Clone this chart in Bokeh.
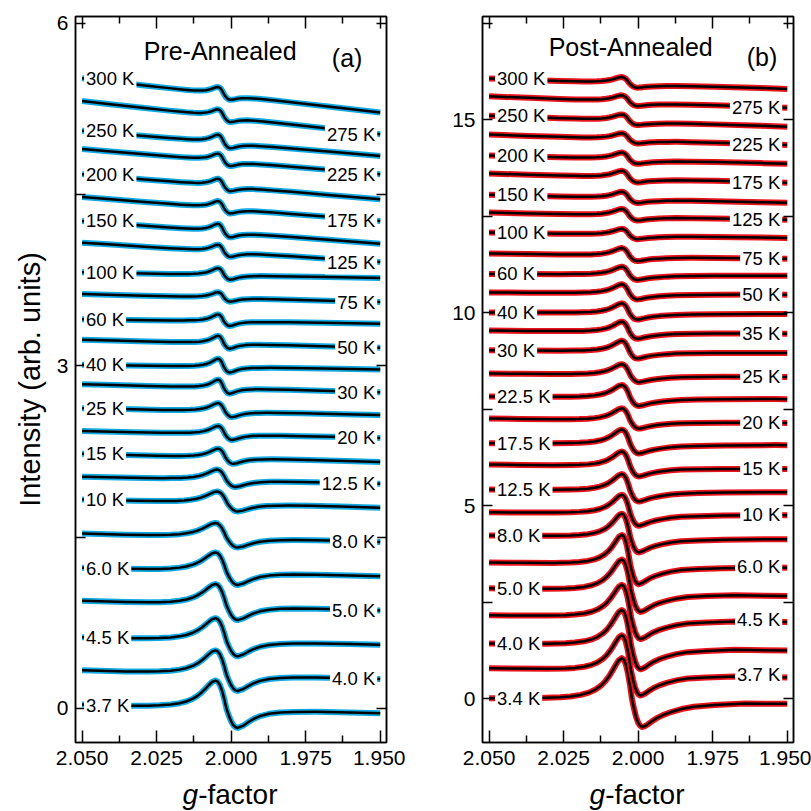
import numpy as np
from bokeh.plotting import figure
from bokeh.layouts import row, column
from bokeh.models import (Range1d, LinearAxis, FixedTicker, PrintfTickFormatter,
                          CustomJSTickFormatter, Label)
from bokeh.embed import file_html
from bokeh.resources import INLINE

FONT = "Liberation Sans"
G_HI, G_LO = 2.050, 1.950

# ---- line shape (u=0 peak, u=1 trough; units of peak-to-peak)
shape_u = [-20, -14, -9, -6, -4, -3, -2.5, -2, -1.6, -1.3, -1.0, -0.8, -0.6, -0.45, -0.3, -0.15,
           0, 0.1, 0.2, 0.3, 0.4, 0.5, 0.6, 0.7, 0.8, 0.9, 1.0, 1.1, 1.25, 1.45, 1.7, 2.0,
           2.4, 2.9, 3.5, 4.5, 6, 9, 14, 20]
shape_pos = [0.0, 0.0, 0.001, 0.004, 0.012, 0.025, 0.038, 0.061, 0.095, 0.136, 0.200, 0.262,
             0.343, 0.417, 0.496, 0.567, 0.600, 0.580, 0.510, 0.385, 0.208, 0.0]
shape_a = shape_pos + [-0.138, -0.256, -0.340, -0.386, -0.400, -0.378, -0.348, -0.278, -0.200,
                       -0.133, -0.080, -0.045, -0.025, -0.011, -0.005, -0.001, 0.0, 0.0]
shape_b = shape_pos + [-0.14, -0.26, -0.34, -0.385, -0.40, -0.39, -0.365, -0.32, -0.27,
                       -0.225, -0.18, -0.135, -0.10, -0.075, -0.05, -0.025, -0.01, 0.0]

# ---- (a) Pre-Annealed, bottom to top
temps_a = ["3.7", "4.0", "4.5", "5.0", "6.0", "8.0", "10", "12.5", "15", "20", "25", "30", "40",
           "50", "60", "75", "100", "125", "150", "175", "200", "225", "250", "275", "300"]
left_a = [0.03, 0.33, 0.62, 0.94, 1.23, 1.53, 1.83, 2.03, 2.23, 2.43, 2.63, 2.84, 3.01,
          3.23, 3.41, 3.63, 3.82, 4.08, 4.27, 4.48, 4.68, 4.90, 5.06, 5.32, 5.52]
right_a = [-0.04, 0.26, 0.56, 0.86, 1.16, 1.46, 1.76, 1.97, 2.16, 2.37, 2.57, 2.77, 2.97,
           3.16, 3.37, 3.56, 3.77, 3.91, 4.07, 4.27, 4.46, 4.68, 4.84, 5.03, 5.22]
pp_a = [0.41, 0.35, 0.33, 0.31, 0.28, 0.21, 0.17, 0.15, 0.13, 0.12, 0.12, 0.12, 0.12,
        0.11, 0.10, 0.08, 0.10, 0.10, 0.11, 0.10, 0.10, 0.10, 0.11, 0.10, 0.10]
gpeak_a = [2.0053] * 6 + [2.0047, 2.0047] + [2.0044] * 17
gtrough_a = [1.9978] * 7 + [1.9986, 1.9993, 1.9997, 1.9997] + [2.0005] * 4 + [2.0003] * 10

# ---- (b) Post-Annealed, bottom to top
temps_b = ["3.4", "3.7", "4.0", "4.5", "5.0", "6.0", "8.0", "10", "12.5", "15", "17.5", "20",
           "22.5", "25", "30", "35", "40", "50", "60", "75", "100", "125", "150", "175", "200",
           "225", "250", "275", "300"]
left_b = [0.0, 0.78, 1.42, 2.15, 2.85, 3.52, 4.22, 4.82, 5.41, 6.06, 6.61, 7.25, 7.82, 8.42,
          9.02, 9.53, 10.0, 10.52, 11.0, 11.53, 12.07, 12.59, 13.05, 13.60, 14.07, 14.61,
          15.10, 15.60, 16.06]
right_b = [-0.05, 0.62, 1.32, 2.05, 2.72, 3.42, 4.15, 4.77, 5.36, 5.96, 6.58, 7.15, 7.77, 8.34,
           8.96, 9.46, 9.97, 10.47, 10.96, 11.40, 11.94, 12.41, 12.85, 13.37, 13.86, 14.35,
           14.82, 15.31, 15.80]
pp_b = [1.78, 1.55, 1.53, 1.40, 1.35, 1.27, 1.00, 0.80, 0.71, 0.64, 0.62, 0.52, 0.54, 0.46,
        0.46, 0.44, 0.42, 0.39, 0.34, 0.33, 0.26, 0.29, 0.28, 0.29, 0.28, 0.25, 0.26, 0.26, 0.26]
gpeak_b = [2.0055] * 29
gtrough_b = [1.9986] + [1.9992] * 4 + [1.9998] * 9 + [2.0003] * 15

x_ticks = [2.050, 2.025, 2.000, 1.975, 1.950]
x_minor = [2.0375, 2.0125, 1.9875, 1.9625]

PLOT_H = 776
LAB_H = 35


def build(gp, gt, yl, yr, pp, shape):
    w = gp - gt
    gs, ys, ss = [], [], []
    for u, s in zip(shape_u, shape):
        g = gp - u * w
        if G_LO < g < G_HI:
            gs.append(g)
            ss.append(s)
            ys.append(yl + (yr - yl) * (G_HI - g) / (G_HI - G_LO) + pp * s)
    gs = [G_HI] + gs + [G_LO]
    ys = [yl + pp * ss[0]] + ys + [yr + pp * ss[-1]]
    return gs, ys


def make_axis(ticks, minor, fmt, show, tick_len, minor_len):
    ax = LinearAxis(ticker=FixedTicker(ticks=ticks, minor_ticks=minor))
    if show:
        ax.formatter = PrintfTickFormatter(format=fmt)
        ax.major_label_text_font_size = "21px"
        ax.major_label_standoff = 7
    else:
        ax.formatter = CustomJSTickFormatter(code="return ''")
        ax.major_label_text_font_size = "1px"
        ax.major_label_standoff = 0
    ax.major_label_text_font = FONT
    ax.major_label_text_color = "black"
    ax.major_tick_in = tick_len
    ax.major_tick_out = 0
    ax.minor_tick_in = minor_len
    ax.minor_tick_out = 0
    ax.major_tick_line_color = "black"
    ax.minor_tick_line_color = "black"
    ax.major_tick_line_width = 1.5
    ax.minor_tick_line_width = 1.5
    ax.axis_line_color = "black"
    ax.axis_line_width = 1.5
    return ax


def panel(width, ml, mr, yrange, yticks, yminor, temps, left, right, pp, gpk, gtr, shape,
          color, offl, offr, title, title_xy, tag, tag_xy, ylabel):
    xr = Range1d(2.0522, 1.9479)
    p = figure(width=width, height=PLOT_H, x_range=xr,
               y_range=Range1d(*yrange), x_axis_type=None, y_axis_type=None,
               output_backend="svg", toolbar_location=None,
               min_border_left=ml, min_border_right=mr, min_border_top=16,
               min_border_bottom=PLOT_H - 742,
               outline_line_color="black", outline_line_width=1.5)
    bx = make_axis(x_ticks, x_minor, "%.3f", True, 12, 7)
    bx.major_label_standoff = 8
    p.add_layout(bx, "below")
    p.add_layout(make_axis(x_ticks, x_minor, "", False, 12, 7), "above")
    ly = make_axis(yticks, yminor, "%d", True, 10, 10)
    if ylabel:
        ly.axis_label = ylabel
        ly.axis_label_text_font = FONT
        ly.axis_label_text_font_size = "29px"
        ly.axis_label_text_font_style = "normal"
        ly.axis_label_text_color = "black"
        ly.axis_label_standoff = 8
    p.add_layout(ly, "left")
    p.add_layout(make_axis(yticks, yminor, "", False, 10, 10), "right")

    for i in range(len(temps)):
        g, y = build(gpk[i], gtr[i], left[i], right[i], pp[i], shape)
        p.line(g, y, line_color=color, line_width=6, line_join="round")
        p.line(g, y, line_color="black", line_width=2.5, line_join="round")

    for i, t in enumerate(temps):
        common = dict(text=f"{t} K", text_font=FONT, text_font_size="18.5px", text_color="black",
                      text_baseline="middle", background_fill_color="white", padding=2)
        if i % 2 == 0:
            p.add_layout(Label(x=G_HI, y=left[i], x_offset=offl, text_align="left", **common))
        else:
            p.add_layout(Label(x=G_LO, y=right[i], x_offset=offr, text_align="right", **common))

    p.add_layout(Label(x=title_xy[0], y=title_xy[1], text=title, text_align="center",
                       text_baseline="middle", text_font=FONT, text_font_size="25px",
                       text_color="black"))
    p.add_layout(Label(x=tag_xy[0], y=tag_xy[1], text=tag, text_align="center",
                       text_baseline="middle", text_font=FONT, text_font_size="25px",
                       text_color="black"))

    # strip below the panel carrying the x-axis title (italic g + "-factor")
    q = figure(width=width, height=LAB_H, x_range=xr, y_range=Range1d(0, LAB_H),
               x_axis_type=None, y_axis_type=None, output_backend="svg",
               toolbar_location=None, min_border_left=ml, min_border_right=mr,
               min_border_top=0, min_border_bottom=0, outline_line_color=None)
    q.add_layout(Label(x=2.000, y=17, x_offset=-33, text="g", text_align="right",
                       text_baseline="alphabetic", text_font=FONT, text_font_size="28px",
                       text_font_style="italic", text_color="black"))
    q.add_layout(Label(x=2.000, y=17, x_offset=-33, text="-factor",
                       text_align="left", text_baseline="alphabetic", text_font=FONT,
                       text_font_size="28px", text_color="black"))
    return p, q


p1, q1 = panel(405, 75, 19, (-0.298, 6.061), [0, 3, 6], [1.5, 4.5], temps_a, left_a, right_a,
               pp_a, gpeak_a, gtrough_a, shape_a, "#12A9E2", 2, -3, "Pre-Annealed",
               (2.0037, 5.755), "(a)", (1.9611, 5.70), "Intensity (arb. units)")
p2, q2 = panel(406, 77, 18, (-1.14, 17.67), [0, 5, 10, 15], [2.5, 7.5, 12.5, 17.5], temps_b,
               left_b, right_b, pp_b, gpeak_b, gtrough_b, shape_b, "#E8141C", 6, -5,
               "Post-Annealed", (2.0025, 16.87), "(b)", (1.95845, 16.63), None)

layout = column(row(p1, p2), row(q1, q2))
open("out.html", "w").write(file_html(layout, INLINE))
